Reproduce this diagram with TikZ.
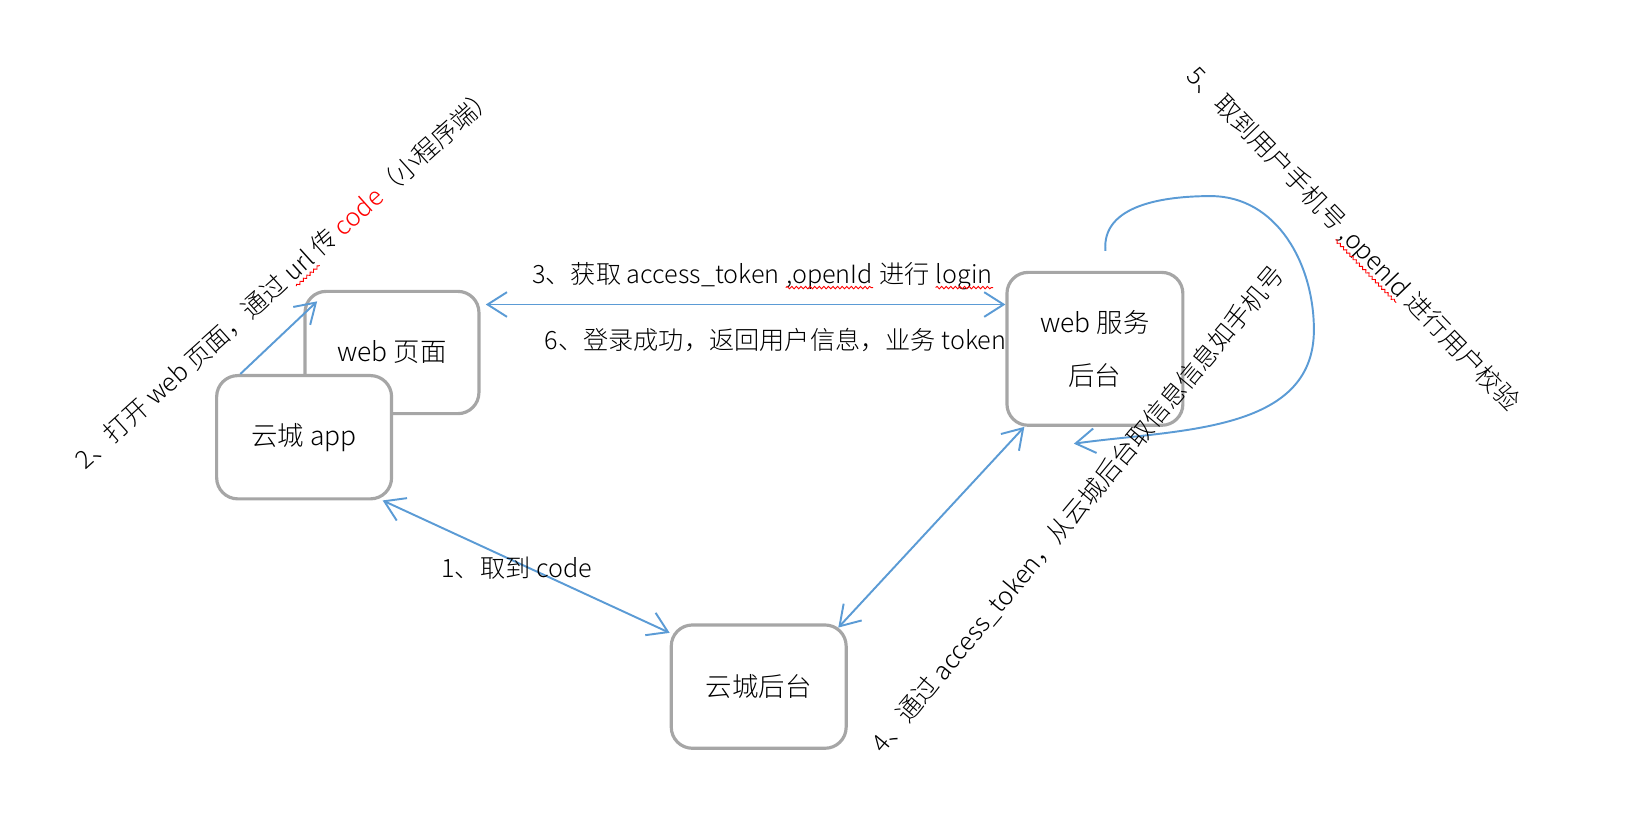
\documentclass[tikz,border=0pt]{standalone}
\usepackage{fontspec}
\IfFontExistsTF{Noto Sans CJK SC Light}{\setmainfont{Noto Sans CJK SC Light}}{\setmainfont{Noto Sans CJK SC}}
\usetikzlibrary{arrows.meta,calc,decorations.pathmorphing}
\definecolor{linkblue}{HTML}{5B9BD5}
\definecolor{boxgray}{HTML}{A6A6A6}
\newcommand\redwave[1]{\tikz[baseline=(w.base)]{\node[inner sep=0pt] (w) {#1};
	\draw[red, line width=0.5pt, decorate, decoration={snake, amplitude=0.7pt, segment length=2.6pt}] ([yshift=-2.6pt]w.base west) -- ([yshift=-2.6pt]w.base east);}}

\begin{document}
\begin{tikzpicture}[x=0.021cm, y=0.021cm,
		box/.style={draw=boxgray, line width=1.8pt, rounded corners=12pt, fill=white, align=center, inner sep=0pt, font=\fontsize{15}{18}\selectfont},
		link/.style={draw=linkblue, line width=1.1pt, >={Straight Barb[length=11pt,width=14pt]}},
		lab/.style={inner sep=0pt, font=\fontsize{14.3}{17}\selectfont}]
				\useasboundingbox (0,0) rectangle (1568,798);
				\node[box, minimum width=3.47cm, minimum height=2.44cm] (WP) at (372.5,463) {web 页面};
				\node[box, minimum width=3.49cm, minimum height=2.46cm] (APP) at (289,382.5) {云城 app};
				\node[box, minimum width=3.51cm, minimum height=3.05cm] (WS) at (1040.5,466.5) {web 服务\\[12pt]后台};
				\node[box, minimum width=3.49cm, minimum height=2.46cm] (YB) at (721,145.5) {云城后台};
				\coordinate (P3) at ($(WP.north east)+(5,-14)$);
				\draw[link, ->] ($(APP.north west)+(24,0)$) -- ($(WP.north west)+(13,-11)$);
				\draw[link, <->] (P3) -- (P3 -| WS.west);
				\draw[link, <->] ($(APP.south east)+(-10,0)$) -- ($(YB.north west)+(0,-9)$);
				\draw[link, <->] ($(WS.south west)+(18,0)$) -- ($(YB.north east)+(-9,-4)$);
				\draw[link, ->] ($(WS.north)+(10,19)$) to[out=95, in=180] ($(WS.north)+(110,71)$) to[out=0, in=90] ($(WS.east)+(123,18)$) to[out=-90, in=8] ($(WS.south)+(-20,-16)$);
				\node[lab] (L1) at (491,258) {1、取到 code};
				\node[lab, rotate=42] (L2) at (272,533) {2、打开 web 页面，通过 \redwave{url} 传 \textcolor{red}{code}（小程序端）};
				\node[lab] (L3) at (725,536) {3、获取 access\_token \redwave{,openId} 进行 \redwave{login}};
				\node[lab, rotate=50] (L4) at (1024,314) {4、通过 access\_token，从云城后台取信息信息如手机号};
				\node[lab, rotate=-46] (L5) at (1285,570) {5、取到用户手机号 \redwave{,openId} 进行用户校验};
				\node[lab] (L6) at (737,475) {6、登录成功，返回用户信息，业务 token};
			\end{tikzpicture}
\end{document}
